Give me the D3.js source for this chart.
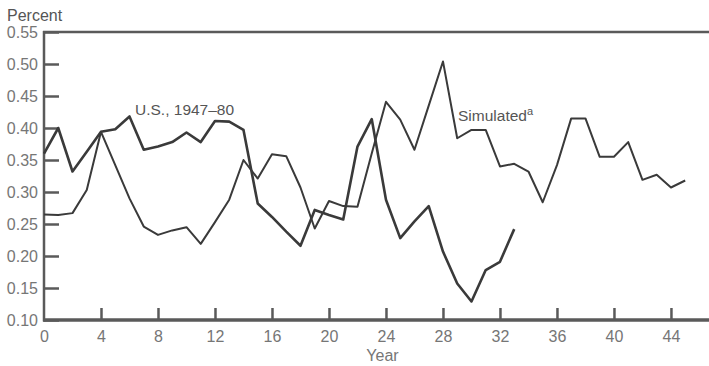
<!DOCTYPE html>
<html>
<head>
<meta charset="utf-8">
<script src="https://cdn.jsdelivr.net/npm/d3@7"></script>
<style>
  html, body { margin: 0; padding: 0; background: #fff; }
  #chart { width: 709px; height: 366px; }
  text { font-family: "Liberation Sans", Arial, sans-serif; }
</style>
</head>
<body>
<div id="chart"></div>
<script>
// values, one per year
const usYears = d3.range(0, 34)
const usValues = [
  0.360, 0.400, 0.332, 0.363, 0.394, 0.398, 0.418, 0.366, 0.371, 0.378,
  0.393, 0.378, 0.411, 0.410, 0.397, 0.282, 0.261, 0.238, 0.216, 0.272,
  0.264, 0.257, 0.371, 0.414, 0.288, 0.228, 0.254, 0.278, 0.207, 0.157,
  0.129, 0.178, 0.191, 0.242
]
const simYears = d3.range(0, 46)
const simValues = [
  0.265, 0.264, 0.267, 0.303, 0.394, 0.342, 0.290, 0.246, 0.233, 0.240,
  0.245, 0.219, 0.253, 0.288, 0.350, 0.321, 0.359, 0.356, 0.307, 0.243,
  0.286, 0.278, 0.277, 0.360, 0.441, 0.413, 0.366, 0.435, 0.504, 0.384,
  0.397, 0.397, 0.340, 0.344, 0.332, 0.284, 0.342, 0.415, 0.415, 0.355,
  0.355, 0.378, 0.319, 0.327, 0.307, 0.318
]
const xTicks = [0, 4, 8, 12, 16, 20, 24, 28, 32, 36, 40, 44]
const yTicks = [0.10, 0.15, 0.20, 0.25, 0.30, 0.35, 0.40, 0.45, 0.50, 0.55]

const options = {
  width: 709,
  height: 366,
  padding: { top: 32, left: 44, bottom: 46, right: 0 }
}
const lineColor = '#3a3a3a'
const axisColor = '#5a5a5a'
const labelColor = '#767676'

const { width, height, padding } = options
const svg = d3.select('#chart')
  .append('svg')
  .attr('width', width)
  .attr('height', height)

// scales
const xScale = d3.scaleLinear()
  .domain([0, 46.67])
  .range([padding.left, width - padding.right])
const yScale = d3.scaleLinear()
  .domain([0.10, 0.55])
  .range([height - padding.bottom, padding.top])

// y axis, ticks pointing inward
const yAxis = d3.axisLeft(yScale)
  .tickValues(yTicks)
  .tickSize(-15)
  .tickPadding(6)
  .tickFormat(d3.format('.2f'))
const gy = svg.append('g')
  .attr('transform', 'translate(' + padding.left + ',0)')
  .call(yAxis)
gy.select('.domain').remove()
gy.selectAll('.tick line')
  .attr('stroke', axisColor)
  .attr('stroke-width', 2.5)
gy.selectAll('.tick text')
  .attr('x', -6)
  .attr('dy', '0.36em')
  .attr('fill', labelColor)
  .style('font-size', '16px')

// x axis, ticks pointing inward
const xAxis = d3.axisBottom(xScale)
  .tickValues(xTicks)
  .tickSize(-12)
  .tickFormat(d3.format('d'))
const gx = svg.append('g')
  .attr('transform', 'translate(0,' + (height - padding.bottom) + ')')
  .call(xAxis)
gx.select('.domain').remove()
gx.selectAll('.tick line')
  .attr('stroke', axisColor)
  .attr('stroke-width', 2.5)
  .attr('display', d => d === 0 ? 'none' : null)
gx.selectAll('.tick text')
  .attr('y', 22)
  .attr('dy', 0)
  .attr('fill', labelColor)
  .style('font-size', '16px')

// frame: left, bottom and top rules
const x0 = xScale.range()[0], x1 = xScale.range()[1]
const y0 = yScale.range()[0], y1 = yScale.range()[1]
svg.append('line')
  .attr('x1', x0).attr('x2', x0)
  .attr('y1', y1 - 1).attr('y2', y0 + 1.5)
  .attr('stroke', axisColor).attr('stroke-width', 2.5)
svg.append('line')
  .attr('x1', x0 - 1).attr('x2', x1)
  .attr('y1', y0).attr('y2', y0)
  .attr('stroke', axisColor).attr('stroke-width', 3.5)
svg.append('line')
  .attr('x1', x0 - 1).attr('x2', x1)
  .attr('y1', y1).attr('y2', y1)
  .attr('stroke', axisColor).attr('stroke-width', 2.5)

// series
const linePath = d3.line()
  .x(d => xScale(d[0]))
  .y(d => yScale(d[1]))
svg.append('path')
  .attr('d', linePath(simYears.map((yr, i) => [yr, simValues[i]])))
  .attr('fill', 'none')
  .attr('stroke', lineColor)
  .attr('stroke-width', 2)
  .attr('stroke-linejoin', 'round')
svg.append('path')
  .attr('d', linePath(usYears.map((yr, i) => [yr, usValues[i]])))
  .attr('fill', 'none')
  .attr('stroke', lineColor)
  .attr('stroke-width', 2.6)
  .attr('stroke-linejoin', 'round')

// titles and labels
svg.append('text')
  .attr('x', 7)
  .attr('y', 21)
  .attr('fill', '#555')
  .style('font-size', '16px')
  .text('Percent')
svg.append('text')
  .attr('x', (x0 + x1) / 2 + 6)
  .attr('y', 361)
  .attr('text-anchor', 'middle')
  .attr('fill', labelColor)
  .style('font-size', '16px')
  .text('Year')
svg.append('text')
  .attr('x', 135)
  .attr('y', 115)
  .attr('fill', '#555')
  .style('font-size', '15.5px')
  .text('U.S., 1947\u201380')
const sim = svg.append('text')
  .attr('x', 458)
  .attr('y', 121)
  .attr('fill', '#555')
  .style('font-size', '15.5px')
sim.append('tspan').text('Simulated')
sim.append('tspan')
  .attr('dy', -6)
  .style('font-size', '11px')
  .text('a')
</script>
</body>
</html>
